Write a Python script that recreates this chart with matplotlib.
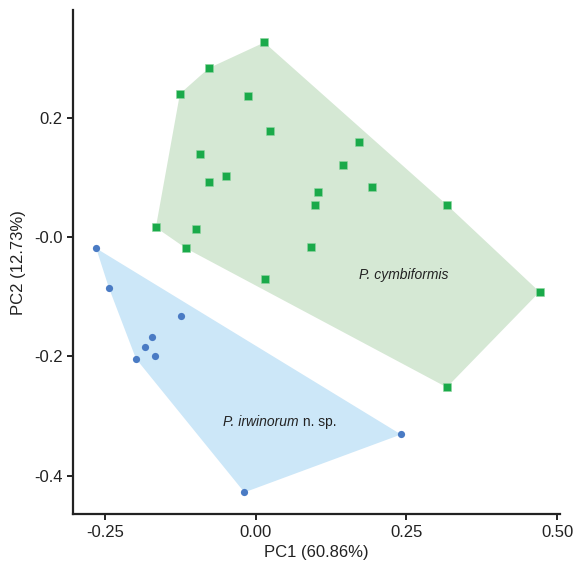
import numpy as np
import matplotlib.pyplot as plt

plt.rcParams['font.family'] = ['Liberation Sans', 'DejaVu Sans']

# PCA scores
irw_pc1 = [-0.265, -0.244, -0.124, -0.173, -0.184, -0.168, -0.199, -0.019, 0.241]
irw_pc2 = [-0.019, -0.085, -0.133, -0.168, -0.184, -0.200, -0.204, -0.428, -0.331]

cym_pc1 = [0.014, -0.078, -0.126, -0.013, 0.024, 0.171, -0.093, 0.145, -0.050, -0.077,
           0.193, 0.104, 0.099, 0.318, -0.166, -0.100, -0.116, 0.092, 0.016, 0.471, 0.317]
cym_pc2 = [0.326, 0.283, 0.240, 0.237, 0.178, 0.160, 0.139, 0.120, 0.103, 0.093,
           0.084, 0.075, 0.054, 0.053, 0.016, 0.013, -0.019, -0.016, -0.070, -0.092, -0.252]


def convex_hull(xs, ys):
    pts = sorted(set(zip(xs, ys)))

    def cross(o, a, b):
        return (a[0] - o[0]) * (b[1] - o[1]) - (a[1] - o[1]) * (b[0] - o[0])

    lower = []
    for p in pts:
        while len(lower) >= 2 and cross(lower[-2], lower[-1], p) <= 0:
            lower.pop()
        lower.append(p)
    upper = []
    for p in reversed(pts):
        while len(upper) >= 2 and cross(upper[-2], upper[-1], p) <= 0:
            upper.pop()
        upper.append(p)
    return np.array(lower[:-1] + upper[:-1])


fig = plt.figure(figsize=(5.75, 5.70), dpi=100)
ax = fig.add_axes([0.127, 0.098, 0.847, 0.884])

hull = convex_hull(cym_pc1, cym_pc2)
ax.fill(hull[:, 0], hull[:, 1], color='#d5e8d4', lw=0, zorder=1)
hull = convex_hull(irw_pc1, irw_pc2)
ax.fill(hull[:, 0], hull[:, 1], color='#cce7f8', lw=0, zorder=1)

ax.plot(cym_pc1, cym_pc2, 's', color='#1aaa4a', ms=5.8, mec='#8fd6a0', mew=0.4, zorder=3)
ax.plot(irw_pc1, irw_pc2, 'o', color='#4a7bc4', ms=5.2, mew=0, zorder=3)

ax.text(0.245, -0.063, 'P. cymbiformis', fontsize=10, fontstyle='italic',
        ha='center', va='center', color='#222222')
t = ax.text(-0.054, -0.31, 'P. irwinorum', fontsize=10, fontstyle='italic',
            ha='left', va='center', color='#222222')
ax.annotate(' n. sp.', xy=(1, 0), xycoords=t, ha='left', va='bottom',
            fontsize=10, color='#222222')

ax.set_xlim(-0.3035, 0.505)
ax.set_ylim(-0.4645, 0.38)
ax.set_xticks([-0.25, 0.0, 0.25, 0.5])
ax.set_xticklabels(['-0.25', '0.00', '0.25', '0.50'])
ax.set_yticks([-0.4, -0.2, 0.0, 0.2])
ax.set_yticklabels(['-0.4', '-0.2', '-0.0', '0.2'])

for s in ['top', 'right']:
    ax.spines[s].set_visible(False)
for s in ['left', 'bottom']:
    ax.spines[s].set_linewidth(1.6)
    ax.spines[s].set_color('#222222')
ax.tick_params(labelsize=12, length=4, width=1.4, color='#222222', labelcolor='#222222')

ax.set_xlabel('PC1 (60.86%)', fontsize=12, color='#222222', labelpad=4)
ax.set_ylabel('PC2 (12.73%)', fontsize=12, color='#222222', labelpad=6)

plt.savefig('out.png', dpi=100)
